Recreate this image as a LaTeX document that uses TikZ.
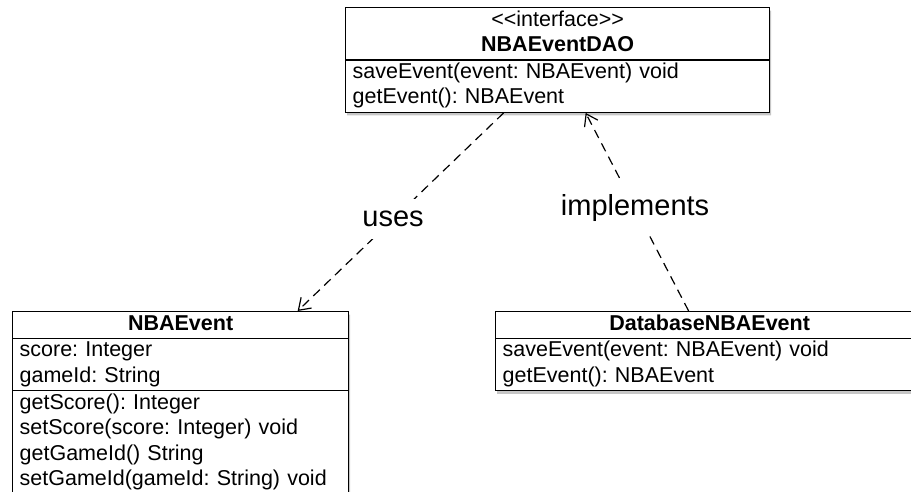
\documentclass[tikz,border=0pt]{standalone}
\usepackage{fontspec}
\newfontfamily\umlfont{Liberation Sans}
\usetikzlibrary{shapes.multipart, arrows.meta, shadows}

\newcommand{\umltitle}[1]{\centering\noindent\strut#1\strut\par}
\newcommand{\umlrows}[1]{\raggedright\noindent\strut#1\strut\par}

\begin{document}
\begin{tikzpicture}[
    x=1pt, y=-1pt,
    umlclass/.style={draw, line width=1.3pt, fill=white, rectangle split, rectangle split parts=#1,
        inner xsep=7pt, inner ysep=0pt,
        font={\umlfont\fontsize{21.5}{25.5}\selectfont\frenchspacing},
        drop shadow={shadow xshift=1.5pt, shadow yshift=-3pt, opacity=0.45}},
    umlclass/.default=2,
    dep/.style={line width=1.2pt, dash pattern=on 9pt off 6pt, -{Straight Barb[length=11pt, width=15pt]}},
    deplabel/.style={fill=white, inner xsep=4pt, inner ysep=12pt, font={\umlfont\fontsize{29}{34}\selectfont}}
]
    \useasboundingbox (0,0) rectangle (911,491);

    % classes
    \node[umlclass, text width=410pt, anchor=north west] (dao) at (345,7)
        {\umltitle{<<interface>>\\\textbf{NBAEventDAO}}
         \nodepart{two}\umlrows{saveEvent(event: NBAEvent) void\\getEvent(): NBAEvent}};
    \node[umlclass=3, text width=322pt, anchor=north west] (event) at (12,311)
        {\umltitle{\textbf{NBAEvent}}
         \nodepart{two}\umlrows{score: Integer\\gameId: String}
         \nodepart{three}\umlrows{getScore(): Integer\\setScore(score: Integer) void\\getGameId() String\\setGameId(gameId: String) void}};
    \node[umlclass, text width=414pt, anchor=north west] (dbevent) at (495,311)
        {\umltitle{\textbf{DatabaseNBAEvent}}
         \nodepart{two}\umlrows{saveEvent(event: NBAEvent) void\\getEvent(): NBAEvent}};

    % relations
    \draw[dep] ([xshift=-54pt]dao.south) -- node[deplabel, pos=0.537] {uses} ([xshift=117pt]event.north);
    \draw[dep] ([xshift=-21pt]dbevent.north) -- node[deplabel, pos=0.52] {implements} ([xshift=28pt]dao.south);
\end{tikzpicture}
\end{document}
